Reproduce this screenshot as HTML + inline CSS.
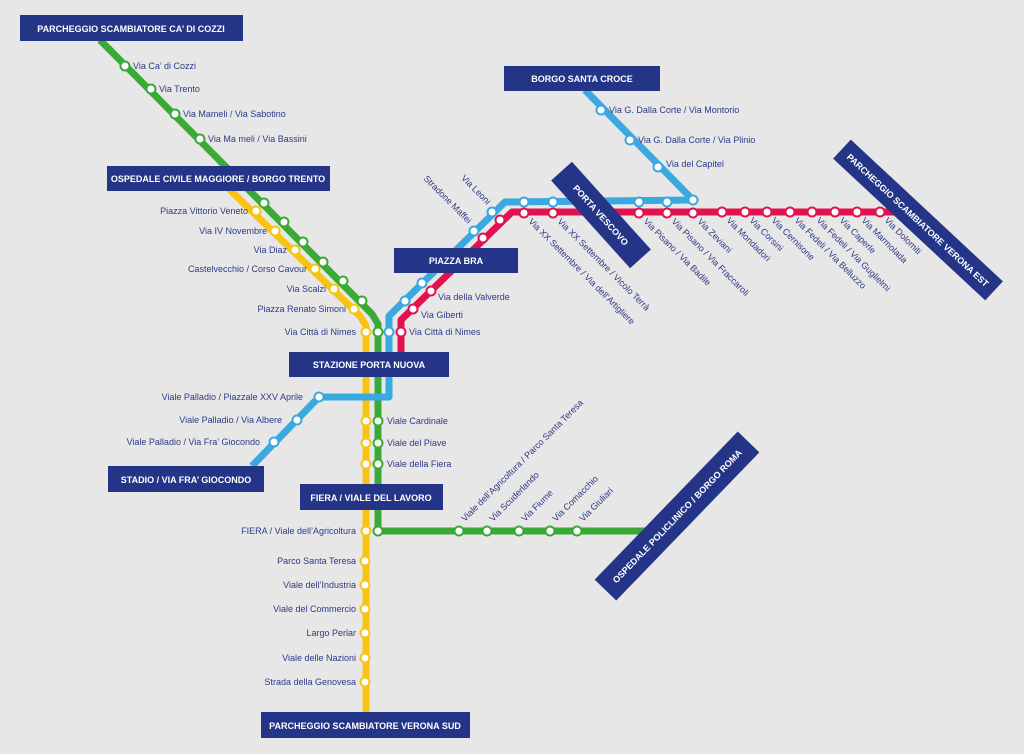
<!DOCTYPE html>
<html><head><meta charset="utf-8"><style>
html,body{margin:0;padding:0;background:#e7e7e7;}
svg{display:block;}
text{font-family:"Liberation Sans",sans-serif;}
.l{font-size:9px;fill:#2d3a86;}
.b{font-size:9px;fill:#fff;font-weight:bold;}
</style></head><body>
<svg width="1024" height="754" viewBox="0 0 1024 754" xmlns="http://www.w3.org/2000/svg">
<rect width="1024" height="754" fill="#e7e7e7"/>
<g fill="none" stroke-width="7" stroke-linejoin="round">
<polyline stroke="#f7c414" points="228,188 360,316 366,326 366,712"/>
<polyline stroke="#3ba936" points="100,40 372,314 378,324 378,531 652,531"/>
<polyline stroke="#3aa9e0" points="585,90 693,200 505,202 389,316 389,397 319,397 252,466"/>
<polyline stroke="#e2124f" points="895,212 512,212 401,320 401,352"/>
</g>
<g fill="#fff" stroke-width="2">
<g stroke="#3ba936">
<circle cx="125" cy="66" r="4.5"/><circle cx="151" cy="89" r="4.5"/><circle cx="175" cy="114" r="4.5"/><circle cx="200" cy="139" r="4.5"/>
<circle cx="264" cy="203" r="4.5"/><circle cx="284" cy="222" r="4.5"/><circle cx="303" cy="242" r="4.5"/><circle cx="323" cy="262" r="4.5"/><circle cx="343" cy="281" r="4.5"/><circle cx="362" cy="301" r="4.5"/>
<circle cx="378" cy="332" r="4.5"/><circle cx="378" cy="421" r="4.5"/><circle cx="378" cy="443" r="4.5"/><circle cx="378" cy="464" r="4.5"/><circle cx="378" cy="531" r="4.5"/>
<circle cx="459" cy="531" r="4.5"/><circle cx="487" cy="531" r="4.5"/><circle cx="519" cy="531" r="4.5"/><circle cx="550" cy="531" r="4.5"/><circle cx="577" cy="531" r="4.5"/>
</g>
<g stroke="#f7c414">
<circle cx="256" cy="211" r="4.5"/><circle cx="275" cy="231" r="4.5"/><circle cx="295" cy="250" r="4.5"/><circle cx="315" cy="269" r="4.5"/><circle cx="334" cy="289" r="4.5"/><circle cx="354" cy="309" r="4.5"/>
<circle cx="366" cy="332" r="4.5"/><circle cx="366" cy="421" r="4.5"/><circle cx="366" cy="443" r="4.5"/><circle cx="366" cy="464" r="4.5"/><circle cx="366" cy="531" r="4.5"/>
<circle cx="365" cy="561" r="4.5"/><circle cx="365" cy="585" r="4.5"/><circle cx="365" cy="609" r="4.5"/><circle cx="365" cy="633" r="4.5"/><circle cx="365" cy="658" r="4.5"/><circle cx="365" cy="682" r="4.5"/>
</g>
<g stroke="#3aa9e0">
<circle cx="601" cy="110" r="4.5"/><circle cx="630" cy="140" r="4.5"/><circle cx="658" cy="167" r="4.5"/><circle cx="693" cy="200" r="4.5"/>
<circle cx="667" cy="202" r="4.5"/><circle cx="639" cy="202" r="4.5"/><circle cx="553" cy="202" r="4.5"/><circle cx="524" cy="202" r="4.5"/>
<circle cx="492" cy="212" r="4.5"/><circle cx="474" cy="231" r="4.5"/><circle cx="422" cy="283" r="4.5"/><circle cx="405" cy="301" r="4.5"/><circle cx="389" cy="332" r="4.5"/>
<circle cx="319" cy="397" r="4.5"/><circle cx="297" cy="420" r="4.5"/><circle cx="274" cy="442" r="4.5"/>
</g>
<g stroke="#e2124f">
<circle cx="524" cy="213" r="4.5"/><circle cx="553" cy="213" r="4.5"/><circle cx="639" cy="213" r="4.5"/><circle cx="667" cy="213" r="4.5"/><circle cx="693" cy="213" r="4.5"/>
<circle cx="722" cy="212" r="4.5"/><circle cx="745" cy="212" r="4.5"/><circle cx="767" cy="212" r="4.5"/><circle cx="790" cy="212" r="4.5"/><circle cx="812" cy="212" r="4.5"/><circle cx="835" cy="212" r="4.5"/><circle cx="857" cy="212" r="4.5"/><circle cx="880" cy="212" r="4.5"/>
<circle cx="500" cy="220" r="4.5"/><circle cx="483" cy="238" r="4.5"/><circle cx="431" cy="291" r="4.5"/><circle cx="413" cy="309" r="4.5"/><circle cx="401" cy="332" r="4.5"/>
</g>
</g>
<g class="l">
<text x="133" y="69">Via Ca’ di Cozzi</text>
<text x="159" y="92">Via Trento</text>
<text x="183" y="117">Via Mameli / Via Sabotino</text>
<text x="208" y="142">Via Ma meli / Via Bassini</text>
<g text-anchor="end">
<text x="248" y="214">Piazza Vittorio Veneto</text>
<text x="267" y="234">Via IV Novembre</text>
<text x="287" y="253">Via Diaz</text>
<text x="307" y="272">Castelvecchio / Corso Cavour</text>
<text x="326" y="292">Via Scalzi</text>
<text x="346" y="312">Piazza Renato Simoni</text>
<text x="356" y="335">Via Città di Nimes</text>
<text x="303" y="400">Viale Palladio / Piazzale XXV Aprile</text>
<text x="282" y="423">Viale Palladio / Via Albere</text>
<text x="260" y="445">Viale Palladio / Via Fra’ Giocondo</text>
<text x="356" y="534">FIERA / Viale dell’Agricoltura</text>
<text x="356" y="564">Parco Santa Teresa</text>
<text x="356" y="588">Viale dell’Industria</text>
<text x="356" y="612">Viale del Commercio</text>
<text x="356" y="636">Largo Perlar</text>
<text x="356" y="661">Viale delle Nazioni</text>
<text x="356" y="685">Strada della Genovesa</text>
</g>
<text x="409" y="335">Via Città di Nimes</text>
<text x="421" y="318">Via Giberti</text>
<text x="438" y="300">Via della Valverde</text>
<text x="387" y="424">Viale Cardinale</text>
<text x="387" y="446">Viale del Piave</text>
<text x="387" y="467">Viale della Fiera</text>
<text x="609" y="113">Via G. Dalla Corte / Via Montorio</text>
<text x="638" y="143">Via G. Dalla Corte / Via Plinio</text>
<text x="666" y="167">Via del Capitel</text>
<text transform="translate(468,224) rotate(45)" text-anchor="end">Stradone Maffei</text>
<text transform="translate(487,205) rotate(45)" text-anchor="end">Via Leoni</text>
<text transform="translate(528,222) rotate(45)">Via XX Settembre / Via dell’Artigliere</text>
<text transform="translate(557,222) rotate(45)">Via XX Settembre / Vicolo Terrà</text>
<text transform="translate(643,222) rotate(45)">Via Pisano / Via Badile</text>
<text transform="translate(671,222) rotate(45)">Via Pisano / Via Fraccaroli</text>
<text transform="translate(697,222) rotate(45)">Via Zeviani</text>
<text transform="translate(726,221) rotate(45)">Via Mondadori</text>
<text transform="translate(749,221) rotate(45)">Via Corsini</text>
<text transform="translate(771,221) rotate(45)">Via Cernisone</text>
<text transform="translate(794,221) rotate(45)">Via Fedeli / Via Belluzzo</text>
<text transform="translate(816,221) rotate(45)">Via Fedeli / Via Guglielmi</text>
<text transform="translate(839,221) rotate(45)">Via Caperle</text>
<text transform="translate(861,221) rotate(45)">Via Marmolada</text>
<text transform="translate(884,221) rotate(45)">Via Dolomiti</text>
<text transform="translate(465,522) rotate(-45)">Viale dell’Agricoltura / Parco Santa Teresa</text>
<text transform="translate(493,522) rotate(-45)">Via Scuderlando</text>
<text transform="translate(525,522) rotate(-45)">Via Fiume</text>
<text transform="translate(556,522) rotate(-45)">Via Comacchio</text>
<text transform="translate(583,522) rotate(-45)">Via Giuliari</text>
</g>
<g fill="#243588">
<rect x="20" y="15" width="223" height="26"/>
<rect x="107" y="166" width="223" height="25"/>
<rect x="504" y="66" width="156" height="25"/>
<rect x="394" y="248" width="124" height="25"/>
<rect x="289" y="352" width="160" height="25"/>
<rect x="108" y="466" width="156" height="26"/>
<rect x="300" y="484" width="143" height="26"/>
<rect x="261" y="712" width="209" height="26"/>
<rect x="-59" y="-14" width="118" height="28" transform="translate(601,215) rotate(48)"/>
<rect x="-104" y="-13" width="208" height="26" transform="translate(918,220) rotate(43)"/>
<rect x="-103" y="-15" width="206" height="30" transform="translate(677,516) rotate(-46)"/>
</g>
<g class="b" text-anchor="middle">
<text x="131" y="32">PARCHEGGIO SCAMBIATORE CA’ DI COZZI</text>
<text x="218" y="182">OSPEDALE CIVILE MAGGIORE / BORGO TRENTO</text>
<text x="582" y="82">BORGO SANTA CROCE</text>
<text x="456" y="264">PIAZZA BRA</text>
<text x="369" y="368">STAZIONE PORTA NUOVA</text>
<text x="186" y="483">STADIO / VIA FRA’ GIOCONDO</text>
<text x="371" y="501">FIERA / VIALE DEL LAVORO</text>
<text x="365" y="729">PARCHEGGIO SCAMBIATORE VERONA SUD</text>
<text transform="translate(601,215) rotate(48)" y="3.5">PORTA VESCOVO</text>
<text transform="translate(918,220) rotate(43)" y="3.5">PARCHEGGIO SCAMBIATORE VERONA EST</text>
<text transform="translate(677,516) rotate(-46)" y="3.5">OSPEDALE POLICLINICO / BORGO ROMA</text>
</g>
</svg>
</body></html>
